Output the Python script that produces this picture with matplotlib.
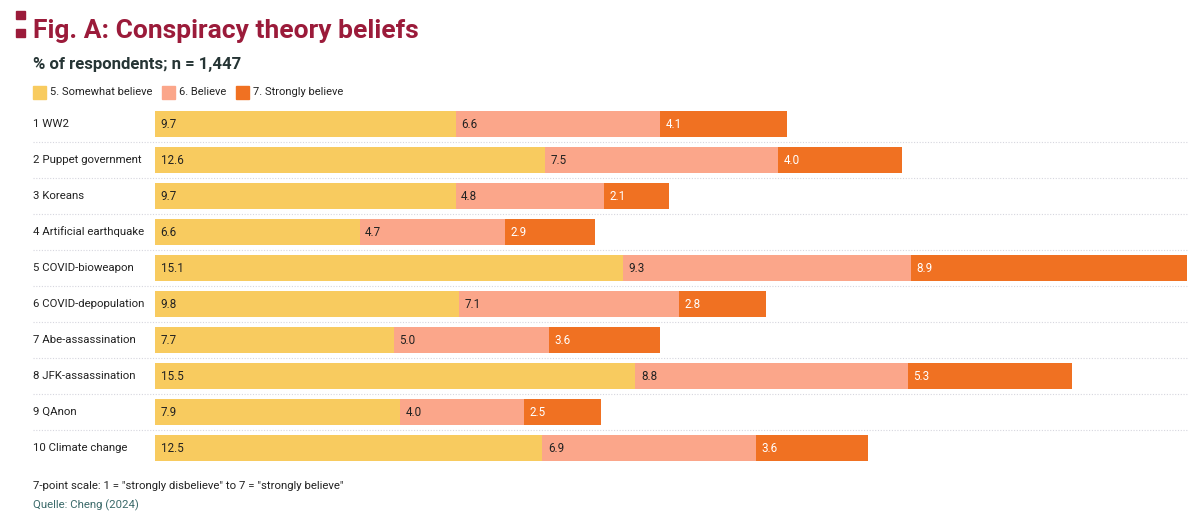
import matplotlib
matplotlib.use("Agg")
import matplotlib.pyplot as plt
from matplotlib.patches import Rectangle
import matplotlib.transforms as mtransforms

plt.rcParams['font.family'] = ['Roboto', 'DejaVu Sans']

categories = ["1 WW2", "2 Puppet government", "3 Koreans", "4 Artificial earthquake",
              "5 COVID-bioweapon", "6 COVID-depopulation", "7 Abe-assassination",
              "8 JFK-assassination", "9 QAnon", "10 Climate change"]
somewhat = [9.7, 12.6, 9.7, 6.6, 15.1, 9.8, 7.7, 15.5, 7.9, 12.5]
believe = [6.6, 7.5, 4.8, 4.7, 9.3, 7.1, 5.0, 8.8, 4.0, 6.9]
strongly = [4.1, 4.0, 2.1, 2.9, 8.9, 2.8, 3.6, 5.3, 2.5, 3.6]
series_names = ["5. Somewhat believe", "6. Believe", "7. Strongly believe"]
colors = ["#F8CB5F", "#FBA68A", "#F07122"]
label_colors = ["#222222", "#222222", "#FFFFFF"]

W, H = 1200, 525
fig = plt.figure(figsize=(12, 5.25), dpi=100)

def fx(px):
    return px / W

def fy(py):
    return 1 - py / H

ax_left, ax_right = 155, 1187
ax_top, ax_bot = 106, 466
ax = fig.add_axes([fx(ax_left), fy(ax_bot), fx(ax_right - ax_left), (ax_bot - ax_top) / H])
n = len(categories)
xmax = max(a + b + c for a, b, c in zip(somewhat, believe, strongly))
ax.set_xlim(0, xmax)
ax.set_ylim(n - 0.5, -0.5)
ax.axis('off')

ys = list(range(n))
lefts = [0.0] * n
for vals, col, lc in zip([somewhat, believe, strongly], colors, label_colors):
    ax.barh(ys, vals, left=lefts, height=0.7, color=col, edgecolor='none')
    for y, l, v in zip(ys, lefts, vals):
        ax.annotate(f"{v:.1f}", xy=(l, y), xytext=(4, 0), textcoords='offset points',
                    va='center', ha='left', fontsize=8.4, color=lc)
    lefts = [l + v for l, v in zip(lefts, vals)]

# separators and category labels
trans = mtransforms.blended_transform_factory(ax.transAxes, ax.transData)
x0 = (33 - ax_left) / (ax_right - ax_left)
for i in range(n - 1):
    ax.plot([x0, 1.0], [i + 0.5, i + 0.5], transform=trans, clip_on=False,
            color="#d6d6de", lw=0.8, linestyle=(0, (1, 1.5)))
for y, c in zip(ys, categories):
    ax.text(x0, y, c, transform=trans, va='center', ha='left', fontsize=8.2, color="#222222")

# title decorations
fig.patches.append(Rectangle((fx(16), fy(19)), fx(9), 8 / H, transform=fig.transFigure,
                             color="#9B1B3A", zorder=5))
fig.patches.append(Rectangle((fx(16), fy(37)), fx(9), 8 / H, transform=fig.transFigure,
                             color="#9B1B3A", zorder=5))
fig.text(fx(33), fy(31), "Fig. A: Conspiracy theory beliefs", fontsize=19, fontweight='bold',
         color="#9B1B3A", va='center', ha='left')
fig.text(fx(33), fy(65), "% of respondents; n = 1,447", fontsize=12.1, fontweight='bold',
         color="#263535", va='center', ha='left')

# legend
leg_x = [33, 162, 236]
for lx, name, col in zip(leg_x, series_names, colors):
    fig.patches.append(Rectangle((fx(lx), fy(99)), fx(13), 13 / H, transform=fig.transFigure,
                                 color=col))
    fig.text(fx(lx + 17), fy(92), name, fontsize=8.0, color="#222222", va='center', ha='left')

fig.text(fx(33), fy(486), '7-point scale: 1 = "strongly disbelieve" to 7 = "strongly believe"',
         fontsize=8.2, color="#222222", va='center', ha='left')
fig.text(fx(33), fy(505), "Quelle: Cheng (2024)", fontsize=8.2, color="#3B6A6A",
         va='center', ha='left')

fig.savefig("out.png", dpi=100)
